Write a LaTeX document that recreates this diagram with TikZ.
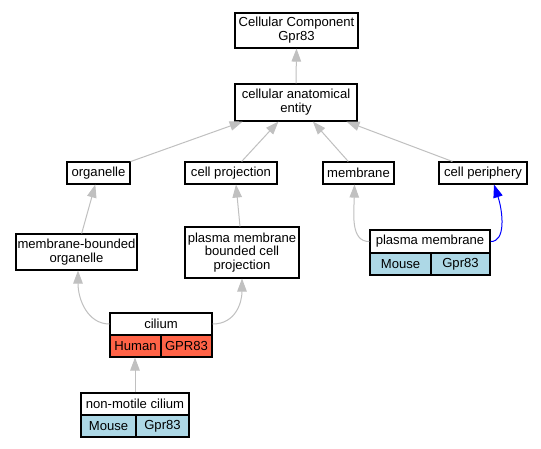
\documentclass[tikz,border=0pt]{standalone}
\usepackage{fontspec}
\setmainfont{Liberation Sans}
\usetikzlibrary{arrows.meta}
\definecolor{edgegray}{RGB}{192,192,192}
\definecolor{mouseblue}{RGB}{173,216,230}
\definecolor{humanred}{RGB}{255,99,71}
\definecolor{edgeblue}{RGB}{0,0,255}
\begin{document}
\begin{tikzpicture}[x=1pt,y=-1pt,
  box/.style={draw=black, line width=1.1pt, fill=white, inner sep=0pt, align=center,
    font=\fontsize{13.1}{13.8}\selectfont},
  mousecell/.style={box, fill=mouseblue, minimum height=22pt},
  humancell/.style={box, fill=humanred, minimum height=22pt},
  edge/.style={draw=edgegray, line width=1pt, -{Triangle[length=13pt,width=9.5pt]}},
  blueedge/.style={draw=edgeblue, line width=1pt, -{Triangle[length=13pt,width=9.5pt]}}
]
\useasboundingbox (0,0) rectangle (541,448);
\fill[white] (0,0) rectangle (541,448);

\node[box, minimum width=123pt, minimum height=35pt] (cc) at (296.5,30.5) {Cellular Component\\Gpr83};
\node[box, minimum width=122pt, minimum height=37pt] (cae) at (296,102.5) {cellular anatomical\\entity};
\node[box, minimum width=63pt, minimum height=22pt] (org) at (98.5,173) {organelle};
\node[box, minimum width=92pt, minimum height=22pt] (cp) at (231,173) {cell projection};
\node[box, minimum width=71pt, minimum height=22pt] (mem) at (358.5,173) {membrane};
\node[box, minimum width=88pt, minimum height=22pt] (per) at (483,173) {cell periphery};
\node[box, minimum width=121pt, minimum height=36pt] (mbo) at (76.5,252) {membrane-bounded\\organelle};
\node[box, minimum width=114pt, minimum height=51pt] (pmb) at (242,252.5) {plasma membrane\\bounded cell\\projection};

% plasma membrane table
\node[box, minimum width=120pt, minimum height=23pt] (pm) at (430,241.5) {plasma membrane};
\node[mousecell, minimum width=61pt] (pmmouse) at (400.5,264) {Mouse};
\node[mousecell, minimum width=59pt] (pmgene) at (460.5,264) {Gpr83};

% cilium table
\node[box, minimum width=102pt, minimum height=22pt] (cil) at (161,324) {cilium};
\node[humancell, minimum width=51pt] (cilhuman) at (135.5,346) {Human};
\node[humancell, minimum width=51pt] (cilgene) at (186.5,346) {GPR83};

% non-motile cilium table
\node[box, minimum width=108pt, minimum height=22pt] (nmc) at (135,404) {non-motile cilium};
\node[mousecell, minimum width=55pt] (nmcmouse) at (108.5,426) {Mouse};
\node[mousecell, minimum width=53pt] (nmcgene) at (162.5,426) {Gpr83};

% edges
\draw[edge] (cae.north) -- (cc.south);
\draw[edge] (org) -- (cae);
\draw[edge] (cp) -- (cae);
\draw[edge] (mem) -- (cae);
\draw[edge] (per) -- (cae);
\draw[edge] (mbo) -- (org);
\draw[edge] ([xshift=-2pt]pmb.north) -- ([xshift=5pt]cp.south);
\draw[edge] (nmc.north) -- (nmc.north |- cilhuman.south);
\draw[edge] (cil.west) .. controls (88,324) and (78,300) .. ([xshift=1.5pt]mbo.south);
\draw[edge] (cil.east) .. controls (236,324) and (242,302) .. (pmb.south);
\draw[edge] (pm.west) .. controls (350,242) and (354,212) .. ([xshift=-4pt]mem.south);
\draw[blueedge] (pm.east) .. controls (506,242) and (503,212) .. ([xshift=11pt]per.south);
\end{tikzpicture}
\end{document}
